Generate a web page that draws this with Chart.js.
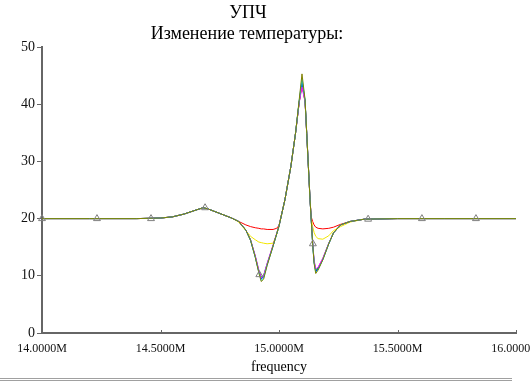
<!DOCTYPE html>
<html>
<head>
<meta charset="utf-8">
<script src="https://cdn.jsdelivr.net/npm/chart.js@4"></script>
<style>
  html, body { margin: 0; padding: 0; background: #fff; }
  #wrap { width: 530px; height: 385px; overflow: hidden; position: relative; }
</style>
</head>
<body>
<div id="wrap"><canvas id="chart" width="560" height="385"></canvas></div>
<script>
// Data (frequency in MHz)
const freq = [14.0, 14.2, 14.4, 14.5, 14.55, 14.6, 14.65, 14.68, 14.7, 14.75, 14.8, 14.83, 14.86, 14.88, 14.9, 14.915, 14.925, 14.935, 14.95, 14.975, 14.99, 15.0, 15.025, 15.05, 15.07, 15.085, 15.097, 15.11, 15.117, 15.124, 15.131, 15.136, 15.142, 15.148, 15.155, 15.165, 15.185, 15.21, 15.23, 15.26, 15.3, 15.36, 15.5, 15.7, 16.0];

const redVals     = [20, 20, 20, 20.1, 20.3, 20.8, 21.5, 21.9, 21.7, 20.9, 20.1, 19.5, 18.9, 18.6, 18.4, 18.3, 18.2, 18.2, 18.1, 18.1, 18.3, 18.8, 23.3, 29.1, 35.0, 40.2, 43.6, 40.4, 34.9, 29.1, 23.3, 20.3, 19.5, 18.9, 18.5, 18.3, 18.2, 18.3, 18.5, 19.0, 19.5, 19.9, 20, 20, 20];
const yellowVals  = [20, 20, 20, 20.1, 20.3, 20.8, 21.5, 21.9, 21.7, 20.9, 20.1, 19.4, 17.9, 16.9, 16.3, 15.9, 15.8, 15.7, 15.6, 15.7, 17.2, 18.7, 23.3, 29.1, 35.0, 40.3, 43.8, 40.5, 34.9, 29.1, 23.3, 19.9, 18.6, 17.6, 16.9, 16.5, 16.4, 17.0, 17.9, 18.6, 19.4, 19.9, 20, 20, 20];
const greenVals   = [20, 20, 20, 20.1, 20.3, 20.8, 21.5, 21.9, 21.7, 20.9, 20.1, 19.5, 18.0, 16.3, 13.4, 10.9, 9.8, 10.1, 12.1, 15.3, 17.3, 18.7, 23.3, 29.1, 35.0, 40.3, 43.5, 40.5, 34.9, 29.1, 23.3, 19.8, 15.8, 12.6, 11.0, 11.4, 13.0, 15.7, 17.5, 18.9, 19.5, 19.9, 20, 20, 20];
const blueVals    = [20, 20, 20, 20.1, 20.3, 20.8, 21.5, 21.9, 21.7, 20.9, 20.1, 19.5, 18.0, 16.2, 13.3, 10.7, 9.5, 9.8, 12.0, 15.2, 17.3, 18.7, 23.3, 29.1, 35.0, 40.4, 44.0, 40.6, 34.9, 29.1, 23.3, 19.8, 15.7, 12.4, 10.8, 11.2, 12.9, 15.6, 17.5, 18.9, 19.5, 19.9, 20, 20, 20];
const magentaVals = [20, 20, 20, 20.1, 20.3, 20.8, 21.5, 21.9, 21.7, 20.9, 20.1, 19.5, 18.0, 16.3, 13.5, 11.0, 9.7, 10.0, 12.2, 15.4, 17.4, 18.7, 23.3, 29.1, 35.0, 40.2, 43.0, 40.4, 34.9, 29.1, 23.3, 19.8, 15.9, 12.8, 11.2, 11.5, 13.1, 15.7, 17.5, 18.9, 19.5, 19.9, 20, 20, 20];
const cyanVals    = [20, 20, 20, 20.1, 20.3, 20.8, 21.5, 21.9, 21.7, 20.9, 20.1, 19.5, 18.0, 16.2, 13.2, 10.6, 9.2, 9.6, 11.9, 15.2, 17.3, 18.7, 23.3, 29.1, 35.0, 40.5, 44.5, 40.7, 34.9, 29.1, 23.3, 19.8, 15.6, 12.3, 10.6, 11.1, 12.8, 15.6, 17.5, 18.9, 19.5, 19.9, 20, 20, 20];
const oliveVals   = [20, 20, 20, 20.1, 20.3, 20.8, 21.5, 21.9, 21.7, 20.9, 20.1, 19.5, 18.0, 16.2, 13.2, 10.5, 9.0, 9.4, 11.8, 15.2, 17.3, 18.7, 23.3, 29.1, 35.0, 40.7, 45.3, 40.8, 34.9, 29.1, 23.3, 19.8, 15.6, 12.2, 10.4, 11.0, 12.8, 15.6, 17.5, 18.9, 19.5, 19.9, 20, 20, 20];

// Triangle markers on the olive trace
const markerFreq = [14.0, 14.232, 14.46, 14.688, 14.917, 15.143, 15.376, 15.603, 15.831];
const markerVals = [20, 20, 20, 21.9, 10.2, 15.6, 19.9, 20, 20];

const xTicks = [14.0, 14.5, 15.0, 15.5, 16.0];

const toXY = (xs, ys) => xs.map((x, i) => ({ x: x, y: ys[i] }));

// first entry is drawn on top
const series = [
  { data: oliveVals, color: '#808000' },
  { data: cyanVals, color: '#00e0e0' },
  { data: magentaVals, color: '#ff00ff' },
  { data: blueVals, color: '#0000ff' },
  { data: greenVals, color: '#00e000' },
  { data: yellowVals, color: '#f2e600' },
  { data: redVals, color: '#ff0000' }
];

const datasets = [{
  data: toXY(markerFreq, markerVals),
  showLine: false,
  clip: false,
  pointStyle: 'triangle',
  pointRadius: 4,
  pointBorderWidth: 1,
  pointBorderColor: '#808080',
  pointBackgroundColor: 'rgba(255,255,255,0)'
}];
series.forEach(s => datasets.push({
  data: toXY(freq, s.data),
  borderColor: s.color,
  borderWidth: 1,
  pointRadius: 0,
  tension: 0
}));

const PLOT_TOP = 47, PLOT_BOTTOM = 333, PLOT_LEFT = 42;

// Titles, inward x ticks, bottom rule
const decor = {
  id: 'decor',
  afterDraw(chart) {
    const ctx = chart.ctx;
    const xs = chart.scales.x;
    ctx.save();
    ctx.fillStyle = '#000';
    ctx.textAlign = 'center';
    ctx.textBaseline = 'alphabetic';
    ctx.font = '18px "Liberation Serif"';
    ctx.fillText('УПЧ', 248, 18);
    ctx.fillText('Изменение температуры:', 247, 39);
    ctx.strokeStyle = '#666';
    ctx.lineWidth = 1;
    xTicks.forEach(v => {
      const px = Math.round(xs.getPixelForValue(v)) + 0.5;
      ctx.beginPath();
      ctx.moveTo(px, PLOT_BOTTOM);
      ctx.lineTo(px, PLOT_BOTTOM - 3);
      ctx.stroke();
    });
    ctx.fillStyle = '#a0a0a0';
    ctx.fillRect(0, 378, 512, 1);
    ctx.fillRect(0, 380, 512, 1);
    ctx.restore();
  }
};

new Chart(document.getElementById('chart'), {
  type: 'line',
  data: { datasets: datasets },
  options: {
    responsive: false,
    animation: false,
    devicePixelRatio: 1,
    layout: { padding: { left: 0, right: 44, top: PLOT_TOP, bottom: 9 } },
    plugins: { legend: { display: false }, tooltip: { enabled: false } },
    scales: {
      x: {
        type: 'linear',
        min: 14,
        max: 16,
        afterBuildTicks: s => { s.ticks = xTicks.map(v => ({ value: v })); },
        afterFit: s => { s.height = 376 - PLOT_BOTTOM; },
        grid: { display: true, drawOnChartArea: false, drawTicks: false },
        border: { color: '#666', width: 2 },
        ticks: {
          padding: 9,
          color: '#111',
          font: { family: 'Liberation Serif', size: 12 },
          maxRotation: 0,
          callback: v => v.toFixed(4) + 'M'
        },
        title: {
          display: true,
          text: 'frequency',
          color: '#000',
          font: { family: 'Liberation Serif', size: 14 },
          padding: { top: 0, bottom: 0 }
        }
      },
      y: {
        min: 0,
        max: 50,
        afterFit: s => { s.width = PLOT_LEFT; },
        grid: { display: true, drawOnChartArea: false, drawTicks: true, tickLength: 5, color: '#666' },
        border: { color: '#666', width: 2 },
        ticks: {
          stepSize: 10,
          padding: 2,
          color: '#111',
          font: { family: 'Liberation Serif', size: 14 }
        }
      }
    }
  },
  plugins: [decor]
});
</script>
</body>
</html>
